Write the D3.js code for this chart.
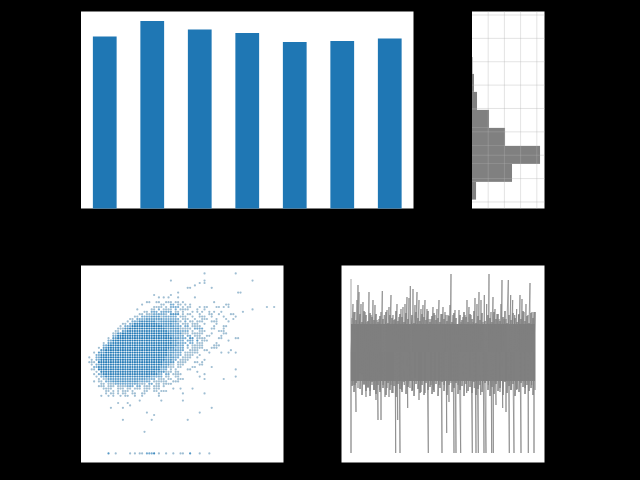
<!DOCTYPE html>
<html><head><meta charset="utf-8">
<script src="https://cdn.jsdelivr.net/npm/d3@7"></script>
<style>html,body{margin:0;padding:0;background:#000;}svg{display:block;}</style>
</head><body><svg id="c" width="640" height="480"></svg>
<script>
// Bar panel
const barCategories = [0,1,2,3,4,5,6];
const barValues = [171.5,187,178.5,175,166,167,169.5];
// Histogram panel (horizontal)
const histEdges = [-3.9,-3.14,-2.37,-1.6,-0.83,-0.06,0.71,1.48,2.2];
const histCounts = [250,2470,4200,2040,1050,310,120,30];
const histXTicks = [1000,2000,3000,4000];
const histYTicks = [-4,-3,-2,-1,0,1,2,3,4];
// Scatter panel: lattice rows [y, [xStart,xEnd,overlap], ...]
const scatterRows = [
[75,[47,47,1],[60,60,1]],[72,[33,33,1],[47,47,1],[67,67,1]],[71,[45,45,1],[47,47,1]],[70,[43,43,1]],
[69,[40,41,1],[50,50,1]],[67,[36,36,1],[61,62,1]],[66,[26,26,1],[33,33,1]],
[65,[28,28,1],[30,30,1],[32,32,1],[36,36,1],[43,43,1]],
[63,[23,24,1],[27,28,1],[31,33,1],[35,36,1],[38,38,1],[51,51,1]],
[62,[21,21,1],[29,30,1],[33,34,2],[36,37,1],[39,39,1],[41,41,1],[56,57,1]],
[61,[26,29,1],[31,31,1],[33,36,2],[38,38,1],[40,41,1],[45,45,1],[47,48,1],[52,53,1],[55,55,1],[57,57,1],[73,73,1],[76,76,1]],
[60,[19,19,1],[25,26,1],[28,28,2],[30,33,1],[35,35,2],[37,40,1],[44,44,1],[47,47,1],[67,67,1]],
[59,[22,23,1],[25,27,2],[29,33,2],[35,36,1],[38,38,1],[42,42,1],[44,44,1],[46,46,1],[49,49,1],[51,51,1],[54,54,1],[63,63,1]],
[58,[20,21,1],[23,25,1],[26,30,2],[31,31,1],[33,36,3],[38,38,1],[40,41,1],[45,45,1],[49,50,1],[53,53,1],[58,59,1]],
[57,[18,19,1],[21,24,2],[25,28,3],[29,29,1],[30,35,2],[37,39,1],[42,42,1],[45,47,1],[50,50,1],[55,55,1],[60,60,1]],
[56,[16,17,1],[19,22,2],[23,29,3],[30,36,2],[38,40,1],[43,43,1],[46,48,1],[52,52,1],[56,56,1],[59,59,1]],
[55,[15,15,1],[17,19,2],[20,26,4],[27,28,2],[29,35,3],[36,37,1],[39,39,2],[41,42,1],[44,46,1],[50,52,1],[57,57,1]],
[54,[13,14,1],[16,17,2],[18,27,5],[28,33,3],[34,36,2],[38,40,1],[42,44,1],[47,47,1],[52,52,1]],
[53,[12,12,1],[14,16,2],[17,29,6],[30,34,3],[35,37,2],[39,40,2],[42,45,1],[51,51,1],[55,56,1]],
[52,[11,13,1],[14,15,3],[16,30,6],[31,36,3],[37,41,1],[43,46,2],[50,51,1],[55,55,1]],
[51,[10,11,1],[13,14,3],[15,31,7],[32,36,3],[37,40,2],[42,42,1],[45,47,1],[53,55,1]],
[50,[9,10,1],[11,12,3],[13,32,7],[33,37,3],[38,40,1],[42,46,1],[50,50,1],[55,56,1]],
[49,[9,10,2],[11,32,7],[33,34,3],[35,38,2],[40,41,2],[43,45,1],[48,49,1],[54,54,1]],
[48,[7,7,1],[9,10,3],[11,33,7],[34,36,3],[37,39,2],[41,42,3],[44,47,1],[53,54,1],[60,61,1]],
[47,[7,8,2],[9,32,7],[33,35,4],[36,38,2],[40,42,2],[44,44,3],[46,48,1],[57,57,1]],
[46,[5,5,1],[7,8,3],[9,33,7],[34,36,3],[37,39,2],[41,42,2],[44,46,1],[52,52,1]],
[45,[5,6,2],[7,32,7],[33,35,4],[36,38,2],[40,40,2],[42,46,1],[51,53,1]],
[44,[3,3,1],[5,6,3],[7,32,7],[33,34,4],[35,38,2],[40,40,1],[42,46,1],[50,52,1]],
[43,[4,5,3],[6,31,7],[32,35,3],[36,38,2],[41,44,1],[47,48,1],[58,58,1]],
[42,[1,1,1],[3,5,3],[6,31,7],[32,34,3],[35,37,2],[39,44,1],[49,49,1],[54,54,1],[57,57,1],[60,60,1]],
[41,[2,3,2],[4,31,7],[32,33,3],[34,37,2],[39,42,1],[45,45,1]],
[40,[-1,-1,1],[2,3,2],[4,30,7],[31,34,3],[35,36,2],[38,41,1],[44,44,1]],
[39,[0,0,1],[2,3,2],[4,30,7],[31,33,3],[34,35,2],[37,40,1],[47,47,1]],
[38,[-1,1,1],[3,29,7],[30,34,3],[36,39,1],[43,44,1],[46,46,1]],
[37,[0,0,1],[2,3,2],[4,29,6],[30,32,3],[33,34,1],[36,38,1],[45,46,1]],
[36,[1,2,2],[3,28,6],[29,31,3],[32,34,1],[36,37,1],[42,43,1],[50,50,1]],
[35,[0,1,1],[3,28,6],[29,31,2],[33,33,1],[35,35,1],[40,41,1],[60,60,1]],
[34,[2,2,1],[4,26,5],[27,30,3],[31,33,1],[35,36,1],[44,44,1]],
[33,[1,1,1],[3,4,2],[5,27,5],[28,29,2],[31,32,2],[34,37,1],[47,47,1]],
[32,[2,2,1],[4,5,2],[6,24,4],[25,29,2],[31,32,1],[35,36,1],[45,45,1],[60,60,1]],
[31,[3,3,1],[5,6,1],[7,22,3],[23,26,2],[28,30,1],[32,33,1],[36,38,1],[47,47,1],[55,55,1]],
[30,[1,1,1],[3,4,1],[6,8,2],[9,19,3],[20,24,2],[26,31,1],[34,36,1]],
[29,[4,5,1],[7,9,1],[10,19,2],[20,22,1],[24,25,2],[27,28,1],[30,33,1]],
[28,[3,5,1],[7,9,1],[11,14,1],[15,17,2],[19,20,2],[22,24,1],[26,28,1],[30,30,1]],
[27,[5,8,1],[11,13,1],[15,16,1],[18,20,1],[22,24,1],[26,28,1],[34,34,1],[37,37,1],[42,42,1]],
[26,[6,7,1],[9,9,1],[11,11,1],[13,15,1],[17,17,1],[22,23,1],[26,27,1],[29,31,1]],
[25,[6,6,1],[8,9,1],[11,11,1],[13,14,1],[17,18,1],[21,22,1],[28,28,1],[38,38,1],[47,47,1]],
[24,[4,4,1],[7,7,1],[9,9,1],[12,12,1],[14,15,1],[18,18,1],[21,21,1],[28,28,1]],
[22,[20,20,1],[29,29,1],[38,38,1]],[21,[11,11,1],[15,15,1]],[20,[16,16,1]],
[19,[8,8,1],[13,13,1],[50,50,1]],[17,[23,23,1],[45,45,1]],[16,[26,26,1]],
[14,[13,13,1],[25,25,1],[40,40,1]],[9,[22,22,1]],
[0,[7,7,3],[10,10,1],[16,16,1],[18,18,1],[20,21,1],[23,25,2],[26,26,4],[28,28,1],[31,31,1],[34,34,1],[37,38,1],[41,41,3],[45,45,1],[49,49,1]]
];
// Line panel: spike extremes [time, value]
const spikeTops = [[0,83],[2,58],[4,50],[6,62],[7,77],[8,70],[10,58],[12,60],[14,50],[16,40],[18,70],[20,47],[22,62],[24,57],[26,42],[28,43],[30,50],[31.3,71],[33.3,47],[36,52],[38,55],[40,67],[42,47],[44,43],[46,58],[48,45],[50,53],[52,55],[54,58],[56,65],[58,64],[59.3,76],[62,73],[64,57],[66,70],[68,62],[70,53],[72,57],[74,62],[76,53],[78,43],[80,43],[82,55],[84,47],[86,53],[88,62],[90,48],[92,55],[94,50],[95,47],[97,47],[99,57],[100,88],[102,47],[104,52],[106,35],[108,52],[110,40],[112,45],[114,47],[116,62],[118,55],[120,47],[122,40],[124,64],[126,58],[128,70],[130,62],[132,40],[133.3,67],[135.7,58],[138,88],[140,50],[142,65],[144,53],[146,48],[148,43],[150,58],[151,82],[153,43],[155,43],[157.3,82],[159.7,67],[161.7,62],[163.7,47],[165.7,53],[167.7,47],[169,67],[171,63],[173,50],[175,58],[177,47],[179,79],[181,50],[183,50]];
const spikeBottoms = [[0,-91],[2,-23],[4,-23],[5,-50],[7,-26],[9,-11],[11,-13],[13,-23],[15,-35],[17,-26],[19,-29],[21,-23],[23,-28],[25,-38],[27,-58],[29,-28],[30,-58],[32,-23],[34,-35],[36,-26],[38,-35],[40,-23],[42,-31],[44.7,-91],[46.7,-58],[49,-91],[50.7,-28],[53.3,-23],[56.7,-46],[59,-26],[61.7,-28],[64,-16],[68,-38],[70,-30],[74,-31],[77.3,-91],[80,-23],[82.3,-28],[84,-18],[88,-23],[91,-91],[93,-23],[95.7,-71],[98,-40],[100,-21],[103,-91],[105,-91],[107,-23],[109.7,-91],[112.3,-16],[115.7,-31],[119,-16],[121.3,-91],[123.3,-26],[125,-91],[127.3,-91],[129.7,-33],[133,-91],[135,-91],[137.3,-23],[140.7,-91],[142.3,-91],[145,-43],[149,-30],[151.7,-46],[155,-50],[158.3,-91],[160,-28],[163,-91],[165.7,-28],[170,-91],[174,-26],[177.3,-91],[180.7,-23],[183,-91]];
// Fuzzy band edge between the spikes
const fuzzTimes = [1,3,5,9,11,13,15,17,19,21,23,25,27,29,32,35,37,39,41,43,45,47,49,51,53,55,57,61,63,65,67,69,71,73,75,77,79,81,83,85,87,89,91,93,96,98,101,103,105,107,109,111,113,115,117,119,121,123,125,127,129,131,134,137,139,141,143,145,147,149,152,154,156,158,160,162,164,166,168,170,172,174,176,178,180,182,184];
const fuzzTop = [44,50,42,48,40,51,47,41,49,45,42,48,40,46,43,50,39,47,44,42,51,41,48,45,40,49,43,47,39,50,44,41,48,45,42,51,40,46,49,42,44,40,48,43,41,46,40,49,44,38,47,42,50,45,40,48,43,51,39,46,42,49,41,47,44,40,50,43,48,41,45,51,39,47,42,49,44,40,48,43,51,41,46,39,49,44,50];
const fuzzBottom = [-24,-30,-21,-27,-33,-22,-29,-25,-34,-20,-28,-32,-23,-30,-26,-33,-21,-28,-31,-24,-35,-22,-27,-30,-20,-32,-25,-29,-34,-22,-27,-31,-23,-33,-21,-28,-25,-32,-30,-22,-34,-26,-20,-29,-33,-23,-30,-26,-21,-32,-28,-24,-34,-22,-29,-25,-31,-20,-33,-27,-23,-30,-21,-28,-34,-25,-32,-22,-29,-26,-33,-20,-31,-24,-28,-22,-34,-27,-30,-21,-25,-32,-23,-29,-26,-33,-28];
const coreTimes = [0,184];
const coreTop = [38,38];
const coreBottom = [-19,-19];

const svg = d3.select('#c');
function panel(x0,y0,x1,y1){
  const g = svg.append('g');
  g.append('rect').attr('x',x0).attr('y',y0).attr('width',x1-x0).attr('height',y1-y0).attr('fill','#fff');
  return g;
}
// Bars
{
  const [x0,y0,x1,y1]=[81,11.5,413.5,208.5];
  const g=panel(x0,y0,x1,y1);
  const x=d3.scaleBand().domain(barCategories).range([x0,x1]).paddingInner(0.5).paddingOuter(0.25);
  const y=d3.scaleLinear().domain([0,197]).range([208,11]);
  g.selectAll('rect.b').data(barValues).join('rect').attr('class','b')
   .attr('x',(d,i)=>x(barCategories[i])).attr('width',x.bandwidth())
   .attr('y',d=>y(d)).attr('height',d=>y1-y(d)).attr('fill','#1f77b4');
}
// Histogram
{
  const [x0,y0,x1,y1]=[472,11.5,544.5,208.5];
  const g=panel(x0,y0,x1,y1);
  const x=d3.scaleLinear().domain([0,4475]).range([x0,x1]);
  const y=d3.scaleLinear().domain([-4.28,4.15]).range([y1,y0]);
  g.selectAll('rect.h').data(histCounts).join('rect').attr('class','h')
   .attr('x',x0).attr('width',d=>x(d)-x0)
   .attr('y',(d,i)=>y(histEdges[i+1])).attr('height',(d,i)=>y(histEdges[i])-y(histEdges[i+1]))
   .attr('fill','#808080');
  g.selectAll('line.gx').data(histXTicks).join('line').attr('class','gx')
   .attr('x1',d=>x(d)).attr('x2',d=>x(d)).attr('y1',y0).attr('y2',y1)
   .attr('stroke','#b0b0b0').attr('stroke-width',0.8).attr('stroke-opacity',0.45);
  g.selectAll('line.gy').data(histYTicks).join('line').attr('class','gy')
   .attr('y1',d=>y(d)).attr('y2',d=>y(d)).attr('x1',x0).attr('x2',x1)
   .attr('stroke','#b0b0b0').attr('stroke-width',0.8).attr('stroke-opacity',0.45);
}
// Scatter
{
  const [x0,y0,x1,y1]=[81,265.5,283.5,462.5];
  const g=panel(x0,y0,x1,y1);
  const x=d3.scaleLinear().domain([-4.46,79.9]).range([x0,x1]);
  const y=d3.scaleLinear().domain([-3.8,78.3]).range([y1,y0]);
  const pts=[];
  scatterRows.forEach(([yv,...runs])=>runs.forEach(([a,b,n])=>{
    for(let i=a;i<=b;i++) pts.push({x:i,y:yv,n});
  }));
  g.selectAll('circle').data(pts).join('circle')
   .attr('cx',d=>x(d.x)).attr('cy',d=>y(d.y)).attr('r',1.1)
   .attr('fill',d=>d.n===1?'#3f7ea8':'#1f77b4').attr('fill-opacity',d=>d.n===1?0.5:1-Math.pow(0.62,d.n));
}
// Line
{
  const [x0,y0,x1,y1]=[341.5,265.5,544.5,462.5];
  const g=panel(x0,y0,x1,y1);
  const x=d3.scaleLinear().domain([0,184]).range([351,535]);
  const y=d3.scaleLinear().domain([-100,96]).range([462,266]);
  const coreRows=coreTimes.map((t,i)=>({t,a:coreTop[i],b:coreBottom[i]}));
  g.append('path').datum(coreRows)
   .attr('d',d3.area().x(d=>x(d.t)).y0(d=>y(d.b)).y1(d=>y(d.a)))
   .attr('fill','#808080');
  const fuzz=fuzzTimes.flatMap((t,i)=>[[t,fuzzTop[i]],[t,fuzzBottom[i]]]);
  const zig=[...spikeTops,...spikeBottoms].sort((p,q)=>p[0]-q[0]).flatMap(([t,v])=>[[t,v],[t,10]]);
  const line=d3.line().x(d=>x(d[0])).y(d=>y(d[1]));
  g.append('path').datum(fuzz).attr('d',line)
   .attr('fill','none').attr('stroke','#808080').attr('stroke-width',1);
  g.append('path').datum(zig).attr('d',line)
   .attr('fill','none').attr('stroke','#808080').attr('stroke-width',0.7);
}
</script></body></html>
